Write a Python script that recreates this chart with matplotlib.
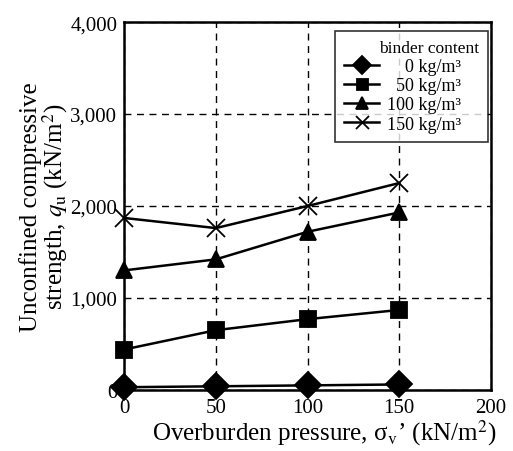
import numpy as np
import matplotlib.pyplot as plt
from matplotlib.ticker import FuncFormatter

plt.rcParams['font.family'] = ['Liberation Serif', 'DejaVu Serif']
plt.rcParams['mathtext.fontset'] = 'stix'

# overburden pressure (kN/m2) and strength per binder content
pressure = [0, 50, 100, 150]
binder = [0, 50, 100, 150]
qu_0 = [30, 40, 50, 60]
qu_50 = [440, 650, 770, 870]
qu_100 = [1300, 1420, 1720, 1930]
qu_150 = [1870, 1760, 2000, 2250]

# right-align the numbers in the key with figure spaces
binder_labels = [f'{b:\u2007>3} kg/m³\u2002\u2002' for b in binder]

fig = plt.figure(figsize=(5.13, 4.52), dpi=100)
ax = fig.add_axes([0.242, 0.135, 0.715, 0.814])

series = [qu_0, qu_50, qu_100, qu_150]
markers = ['D', 's', '^', 'x']
sizes = [13, 11, 12, 13]
for vals, m, ms, lab in zip(series, markers, sizes, binder_labels):
    ax.plot(pressure, vals, color='black', lw=1.8, marker=m, ms=ms,
            mew=1.3, label=lab, clip_on=False, zorder=3)

ax.set_xlim(0, 200)
ax.set_ylim(0, 4000)
ax.set_xticks([0, 50, 100, 150, 200])
ax.set_yticks([0, 1000, 2000, 3000, 4000])
ax.yaxis.set_major_formatter(FuncFormatter(lambda v, p: f'{int(v):,}'))
ax.tick_params(direction='in', length=0, labelsize=15)
ax.tick_params(axis='x', pad=6)
ax.tick_params(axis='y', pad=5)
ax.grid(True, color='black', ls=(0, (5, 4)), lw=1.0)
for s in ax.spines.values():
    s.set_linewidth(1.8)

ax.set_xlabel("Overburden pressure, σ$_\\mathrm{v}$’ (kN/m$^2$)", fontsize=18, labelpad=0)
ax.xaxis.label.set_x(0.545)
ax.set_ylabel("Unconfined compressive\nstrength, $q_\\mathrm{u}$ (kN/m$^2$)", fontsize=18,
              labelpad=0, linespacing=0.95)

leg = ax.legend(title='binder content', loc='upper right', fontsize=13,
                title_fontsize=12.5, frameon=True, fancybox=False,
                edgecolor='black', borderpad=0.5, handlelength=1.9,
                handletextpad=0.45, labelspacing=0.12, markerscale=0.72,
                borderaxespad=0, bbox_to_anchor=(0.992, 0.976))
leg.get_frame().set_linewidth(1.2)
leg._legend_box.align = 'right'

fig.savefig('out.png', dpi=100)
